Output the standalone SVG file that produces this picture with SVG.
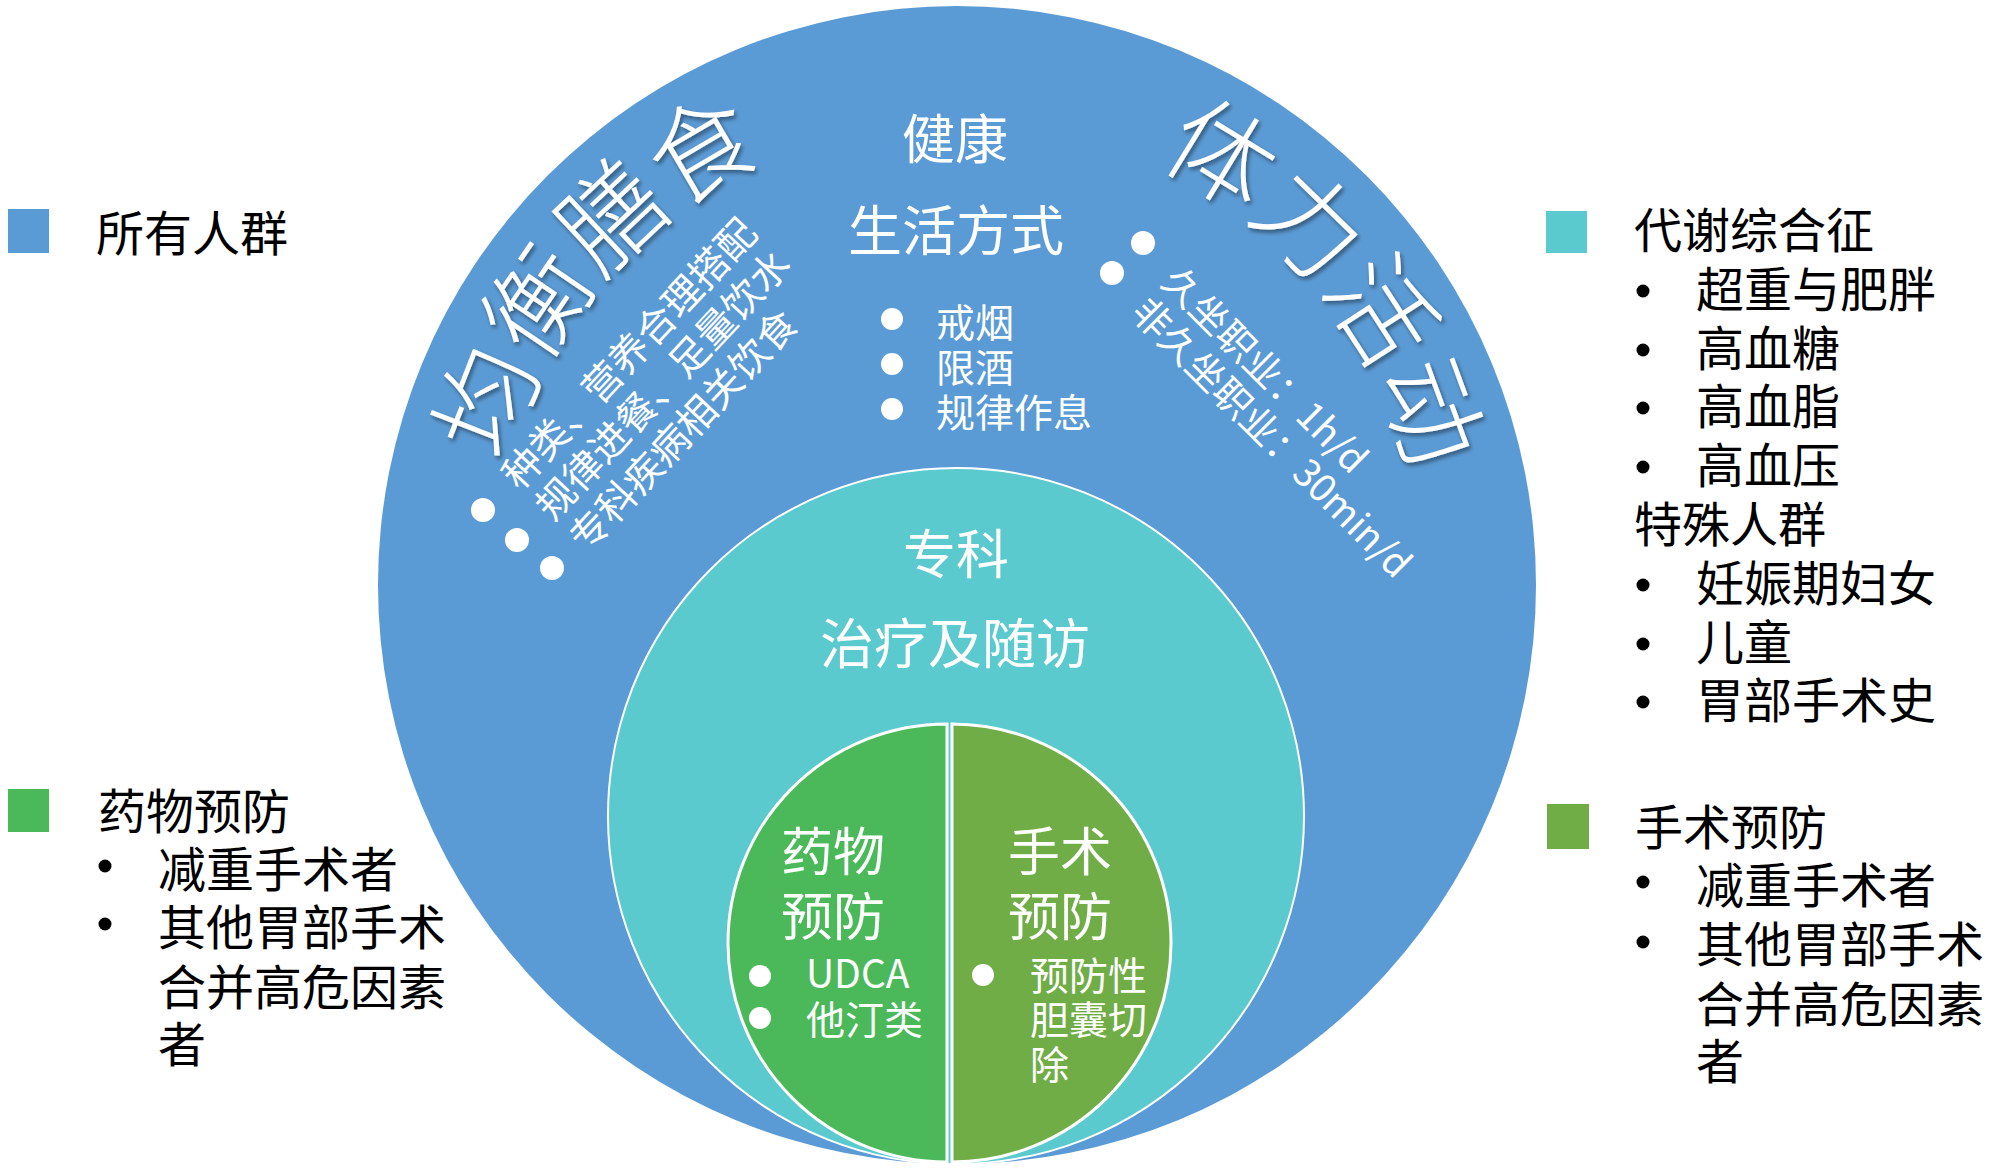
<svg xmlns="http://www.w3.org/2000/svg" width="2000" height="1172" viewBox="0 0 2000 1172">
<style>
  text { font-family: "Noto Sans CJK SC", "Noto Sans", sans-serif; }
  .w { fill: #FFFFFF; }
  .k { fill: #000000; }
  .dot { fill: #FFFFFF; }
  .kdot { fill: #000000; }
  .title { font-size: 104px; font-weight: 300; fill: #FFFFFF; filter: url(#shadow); }
  .s38 { font-size: 38px; }
  .s39 { font-size: 39px; }
  .s48 { font-size: 48px; }
  .s52 { font-size: 52px; }
  .s53 { font-size: 53px; }
  .s54 { font-size: 54px; }
  .mid { text-anchor: middle; }
</style>
<defs>
  <filter id="shadow" x="-20%" y="-20%" width="140%" height="140%">
    <feDropShadow dx="2" dy="3" stdDeviation="2" flood-color="#000000" flood-opacity="0.45"/>
  </filter>
  <path id="arcL" d="M 550.5 815.0 A 467 467 0 0 1 1120.5 147.6"/>
  <path id="arcR" d="M 802.7 144.2 A 467 467 0 0 1 1358.6 823.4"/>
</defs>
<rect x="0" y="0" width="2000" height="1172" fill="#FFFFFF"/>

<g id="node-all">
  <circle cx="957" cy="585" r="579" fill="#5B9BD5"/>
  <text class="title"><textPath href="#arcL" startOffset="50%" text-anchor="middle">均衡膳食</textPath></text>
  <text class="title"><textPath href="#arcR" startOffset="50%" text-anchor="middle">体力活动</textPath></text>
  <g transform="translate(519.7,491.5) rotate(-47)">
    <text class="w s39" x="0" y="0">种类、营养合理搭配</text>
    <text class="w s39" x="0" y="46">规律进餐、足量饮水</text>
    <text class="w s39" x="0" y="92">专科疾病相关饮食</text>
  </g>
  <circle class="dot" cx="483" cy="510" r="12"/>
  <circle class="dot" cx="517" cy="540" r="12"/>
  <circle class="dot" cx="552" cy="568" r="12"/>
  <g transform="translate(1159.4,283.8) rotate(45)">
    <text class="w s38" x="0" y="0">久坐职业：1h/d</text>
    <text class="w s38" x="0" y="43">非久坐职业：30min/d</text>
  </g>
  <circle class="dot" cx="1143" cy="243" r="12"/>
  <circle class="dot" cx="1112" cy="273" r="12"/>
  <text class="w s53 mid" x="955" y="159">健康</text>
  <text class="w s54 mid" x="956" y="251">生活方式</text>
  <circle class="dot" cx="892" cy="319" r="11"/>
  <circle class="dot" cx="892" cy="364" r="11"/>
  <circle class="dot" cx="892" cy="409" r="11"/>
  <text class="w s39" x="936" y="337">戒烟</text>
  <text class="w s39" x="936" y="382">限酒</text>
  <text class="w s39" x="936" y="427">规律作息</text>
</g>

<g id="node-special">
  <circle cx="956" cy="816" r="348" fill="#5BCACE" stroke="#FFFFFF" stroke-width="2"/>
  <text class="w s53 mid" x="956" y="574">专科</text>
  <text class="w s54 mid" x="955" y="664">治疗及随访</text>
</g>

<g id="node-drug">
  <path d="M 947 724 A 219 219 0 0 0 947 1162 Z" fill="#4BB95A" stroke="#FFFFFF" stroke-width="3"/>
  <text class="w s52" x="781" y="871">药物</text>
  <text class="w s52" x="781" y="936">预防</text>
  <circle class="dot" cx="760" cy="976" r="11"/>
  <circle class="dot" cx="760" cy="1018" r="11"/>
  <text class="w s39" x="806" y="988">UDCA</text>
  <text class="w s39" x="806" y="1034">他汀类</text>
</g>

<g id="node-surgery">
  <path d="M 952 724 A 219 219 0 0 1 952 1162 Z" fill="#70AD47" stroke="#FFFFFF" stroke-width="3"/>
  <text class="w s52" x="1008" y="871">手术</text>
  <text class="w s52" x="1008" y="936">预防</text>
  <circle class="dot" cx="983" cy="975" r="11"/>
  <text class="w s39" x="1030" y="990">预防性</text>
  <text class="w s39" x="1030" y="1034">胆囊切</text>
  <text class="w s39" x="1030" y="1079">除</text>
</g>

<g id="legend-all">
  <rect x="8" y="209" width="41" height="44" fill="#5B9BD5"/>
  <text class="k s48" x="96" y="251">所有人群</text>
</g>

<g id="legend-drug">
  <rect x="8" y="789" width="41" height="43" fill="#4BB95A"/>
  <text class="k s48" x="98" y="829">药物预防</text>
  <circle class="kdot" cx="105" cy="866" r="6.5"/>
  <circle class="kdot" cx="105" cy="924" r="6.5"/>
  <text class="k s48" x="158" y="887">减重手术者</text>
  <text class="k s48" x="158" y="945">其他胃部手术</text>
  <text class="k s48" x="158" y="1005">合并高危因素</text>
  <text class="k s48" x="158" y="1062">者</text>
</g>

<g id="legend-special">
  <rect x="1546" y="211" width="41" height="42" fill="#5BCACE"/>
  <text class="k s48" x="1634" y="248">代谢综合征</text>
  <circle class="kdot" cx="1643" cy="291" r="6.5"/>
  <circle class="kdot" cx="1643" cy="350" r="6.5"/>
  <circle class="kdot" cx="1643" cy="408" r="6.5"/>
  <circle class="kdot" cx="1643" cy="467" r="6.5"/>
  <text class="k s48" x="1696" y="307">超重与肥胖</text>
  <text class="k s48" x="1696" y="366">高血糖</text>
  <text class="k s48" x="1696" y="424">高血脂</text>
  <text class="k s48" x="1696" y="483">高血压</text>
  <text class="k s48" x="1634" y="542">特殊人群</text>
  <circle class="kdot" cx="1643" cy="585" r="6.5"/>
  <circle class="kdot" cx="1643" cy="644" r="6.5"/>
  <circle class="kdot" cx="1643" cy="702" r="6.5"/>
  <text class="k s48" x="1696" y="601">妊娠期妇女</text>
  <text class="k s48" x="1696" y="660">儿童</text>
  <text class="k s48" x="1696" y="718">胃部手术史</text>
</g>

<g id="legend-surgery">
  <rect x="1547" y="804" width="42" height="45" fill="#70AD47"/>
  <text class="k s48" x="1635" y="845">手术预防</text>
  <circle class="kdot" cx="1643" cy="882" r="6.5"/>
  <circle class="kdot" cx="1643" cy="942" r="6.5"/>
  <text class="k s48" x="1696" y="903">减重手术者</text>
  <text class="k s48" x="1696" y="962">其他胃部手术</text>
  <text class="k s48" x="1696" y="1022">合并高危因素</text>
  <text class="k s48" x="1696" y="1079">者</text>
</g>

<g id="connectors"/>
</svg>
